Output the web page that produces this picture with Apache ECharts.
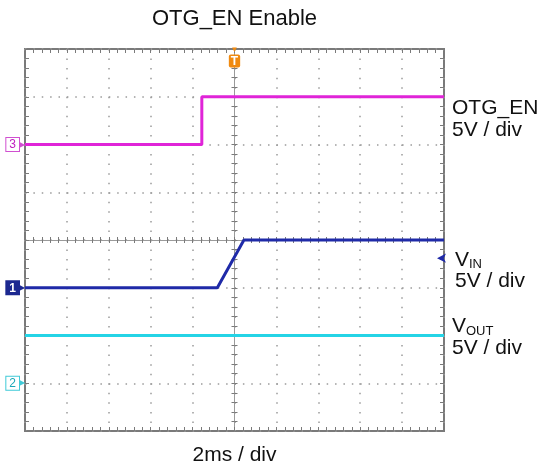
<!DOCTYPE html>
<html><head><meta charset="utf-8">
<script src="https://cdn.jsdelivr.net/npm/echarts@6/dist/echarts.min.js"></script>
<style>html,body{margin:0;padding:0;background:#fff}#c{width:543px;height:465px}</style>
</head><body><div id="c"></div>
<script>
// ---- data ----
const titleText = 'OTG_EN Enable';
const timeScaleText = '2ms / div';
const msPerDiv = 2;
const voltsPerDiv = 5;
const divX = 10;
const divY = 8;
// channel ground reference positions (divisions from screen centre)
const ch3GroundDiv = 2;
const ch1GroundDiv = -1;
const ch2GroundDiv = -3;
// OTG_EN (ch3) — time in ms, level in V
const otgTime = [-10, -1.56, -1.56, 10];
const otgVolt = [0, 0, 5, 5];
// VIN (ch1)
const vinTime = [-10, -0.82, 0.45, 10];
const vinVolt = [0, 0, 5, 5];
// VOUT (ch2)
const voutTime = [-10, 10];
const voutVolt = [5, 5];
// ch1 level indicator on the right edge (V)
const vinLevelMark = 3.1;

// ---- chart ----
const chart = echarts.init(document.getElementById('c'), null, {renderer: 'canvas'});
const FONT = "'Liberation Sans', Arial, Helvetica, sans-serif";
const GRAY = '#7a7a7a', DOT = '#9a9a9a';
const C_OTG = '#e024d8', C_VIN = '#1f2aa8', C_VOUT = '#24d4e6';
const xMin = -divX / 2 * msPerDiv, xMax = divX / 2 * msPerDiv;
const pairs = (t, v) => t.map((x, i) => [x, v[i]]);

const markerRich = {
  c3: {color: '#c020c0', backgroundColor: '#fff', borderColor: '#d050d0', borderWidth: 1, padding: [1, 3, 0, 3], fontSize: 12, fontFamily: FONT},
  p3: {color: '#d050d0', fontSize: 8, padding: [0, 0, 0, 0]},
  c1: {color: '#fff', backgroundColor: '#1c2890', borderColor: '#1c2890', borderWidth: 1, padding: [1, 3, 0, 3], fontSize: 12, fontWeight: 'bold', fontFamily: FONT},
  p1: {color: '#1c2890', fontSize: 8},
  c2: {color: '#1aa8b8', backgroundColor: '#fff', borderColor: '#40cad8', borderWidth: 1, padding: [1, 3, 0, 3], fontSize: 12, fontFamily: FONT},
  p2: {color: '#40cad8', fontSize: 8}
};

function chAxis(groundDiv, label) {
  return {
    type: 'value', position: 'left',
    min: -(divY / 2 + groundDiv) * voltsPerDiv, max: (divY / 2 - groundDiv) * voltsPerDiv, interval: voltsPerDiv,
    axisLine: {show: false, onZero: false}, axisTick: {show: false}, splitLine: {show: false},
    axisLabel: {show: true, margin: 0, formatter: v => v === 0 ? label : '', rich: markerRich}
  };
}
const tickStyle = {color: GRAY, width: 1};
function borderX(pos, extra) {
  return Object.assign({
    type: 'value', position: pos, min: xMin, max: xMax, interval: msPerDiv,
    axisLine: {show: false, onZero: false},
    axisTick: {show: true, inside: true, length: 4, lineStyle: tickStyle},
    minorTick: {show: true, splitNumber: 5, length: 4, lineStyle: tickStyle},
    axisLabel: {show: false}, splitLine: {show: false}
  }, extra || {});
}
function borderY(pos, extra) {
  return Object.assign({
    type: 'value', position: pos, min: -divY / 2, max: divY / 2, interval: 1,
    axisLine: {show: false, onZero: false},
    axisTick: {show: true, inside: true, length: 4, lineStyle: tickStyle},
    minorTick: {show: true, splitNumber: 5, length: 4, lineStyle: tickStyle},
    axisLabel: {show: false}, splitLine: {show: false}
  }, extra || {});
}
function centreX(pos) {
  return borderX(pos, {axisLine: {show: true, onZero: true, onZeroAxisIndex: 0, lineStyle: {color: DOT, width: 1}},
    axisTick: {show: true, inside: true, length: 3, lineStyle: tickStyle},
    minorTick: {show: true, splitNumber: 5, length: 3, lineStyle: tickStyle}});
}
function centreY(pos) {
  return borderY(pos, {axisLine: {show: true, onZero: true, onZeroAxisIndex: 0, lineStyle: {color: DOT, width: 1}},
    axisTick: {show: true, inside: true, length: 3, lineStyle: tickStyle},
    minorTick: {show: true, splitNumber: 5, length: 3, lineStyle: tickStyle}});
}

const option = {
  animation: false,
  backgroundColor: '#fff',
  textStyle: {fontFamily: FONT},
  title: {text: titleText, left: 234.5, top: 8, textAlign: 'center', padding: 0,
    textStyle: {fontSize: 22, fontWeight: 'normal', color: '#111', fontFamily: FONT}},
  grid: {left: 25, top: 49, right: 99, bottom: 34, show: true, borderColor: GRAY, borderWidth: 2,
    backgroundColor: '#fff', containLabel: false, outerBoundsMode: 'none'},
  xAxis: [
    borderX('bottom', {
      name: timeScaleText, nameLocation: 'middle', nameGap: 14,
      nameTextStyle: {fontSize: 21, color: '#111', fontFamily: FONT},
      splitLine: {show: true, lineStyle: {color: DOT, width: 1.5, type: [1.5, 8.05]}}
    }),
    borderX('top', {
      axisLabel: {show: true, inside: true, margin: -3,
        formatter: v => v === 0 ? '{a|▼}\n{t|T}' : '',
        rich: {
          a: {color: '#f08a10', fontSize: 8, lineHeight: 8, align: 'center'},
          t: {color: '#fff', backgroundColor: '#f08a10', fontSize: 12, fontWeight: 'bold', padding: [1, 2, 0, 2], borderRadius: 2, lineHeight: 14, align: 'center'}
        }}
    }),
    centreX('bottom'),
    centreX('top')
  ],
  yAxis: [
    borderY('left', {splitLine: {show: true, lineStyle: {color: DOT, width: 1.5, type: [1.5, 6.88]}}}),
    borderY('right'),
    centreY('left'),
    centreY('right'),
    chAxis(ch3GroundDiv, '{c3|3}{p3|▶}'),
    chAxis(ch1GroundDiv, '{c1|1}{p1|▶}'),
    chAxis(ch2GroundDiv, '{c2|2}{p2|▶}')
  ],
  series: [
    {
      name: 'OTG_EN', type: 'line', xAxisIndex: 0, yAxisIndex: 4, data: pairs(otgTime, otgVolt),
      showSymbol: false, lineStyle: {color: C_OTG, width: 3}, itemStyle: {color: C_OTG},
      endLabel: {show: true, offset: [8, 22], align: 'left', verticalAlign: 'middle', distance: 0,
        formatter: () => '{a|OTG_EN}\n{a|5V / div}',
        rich: {a: {fontSize: 21, lineHeight: 22, color: '#111', fontFamily: FONT}}}
    },
    {
      name: 'VOUT', type: 'line', xAxisIndex: 0, yAxisIndex: 6, data: pairs(voutTime, voutVolt),
      showSymbol: false, lineStyle: {color: C_VOUT, width: 3}, itemStyle: {color: C_VOUT},
      endLabel: {show: true, offset: [8, 2], align: 'left', verticalAlign: 'middle', distance: 0,
        formatter: () => '{a|V}{s|OUT}\n{a|5V / div}',
        rich: {a: {fontSize: 21, lineHeight: 22, color: '#111', fontFamily: FONT},
               s: {fontSize: 13, lineHeight: 22, color: '#111', fontFamily: FONT, verticalAlign: 'bottom', padding: [6, 0, 0, 0]}}}
    },
    {
      name: 'VIN', type: 'line', xAxisIndex: 0, yAxisIndex: 5, data: pairs(vinTime, vinVolt),
      showSymbol: false, lineStyle: {color: C_VIN, width: 3}, itemStyle: {color: C_VIN},
      endLabel: {show: true, offset: [11, 31], align: 'left', verticalAlign: 'middle', distance: 0,
        formatter: () => '{a|V}{s|IN}\n{a|5V / div}',
        rich: {a: {fontSize: 21, lineHeight: 21, color: '#111', fontFamily: FONT},
               s: {fontSize: 13, lineHeight: 21, color: '#111', fontFamily: FONT, verticalAlign: 'bottom', padding: [6, 0, 0, 0]}}},
      markPoint: {
        symbol: 'arrow', symbolSize: [7, 9], symbolRotate: 90, symbolOffset: [-7, 0],
        itemStyle: {color: C_VIN}, label: {show: false},
        data: [{coord: [xMax, vinLevelMark]}]
      }
    }
  ]
};
chart.setOption(option);
</script>
</body></html>
